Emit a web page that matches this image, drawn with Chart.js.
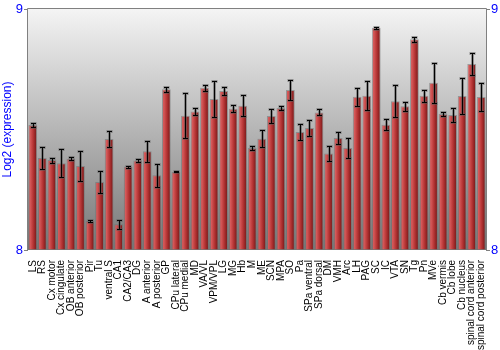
<!DOCTYPE html>
<html><head><meta charset="utf-8">
<script src="https://cdn.jsdelivr.net/npm/chart.js@4/dist/chart.umd.min.js"></script>
<style>html,body{margin:0;padding:0;background:#fff}#c{display:block}</style>
</head><body>
<canvas id="c" width="500" height="350"></canvas>
<script>
const categories = ["LS","RS","Cx motor","Cx cingulate","OB anterior","OB posterior","Pir","Tu","ventral S","CA1","CA2/CA3","DG","A anterior","A posterior","GP","CPu lateral","CPu medial","MD","VA/VL","VPM/VPL","LG","MG","Hb","M","ME","SCN","MPA","SO","Pa","SPa ventral","SPa dorsal","DM","VMH","Arc","LH","PAG","SC","IC","VTA","SN","Tg","Pn","MVe","Cb vermis","Cb lobe","Cb nucleus","spinal cord anterior","spinal cord posterior"];
const values = [8.519,8.382,8.373,8.360,8.379,8.349,8.120,8.282,8.461,8.107,8.346,8.371,8.410,8.310,8.667,8.324,8.557,8.575,8.673,8.627,8.660,8.586,8.599,8.423,8.462,8.556,8.589,8.664,8.490,8.506,8.571,8.400,8.465,8.423,8.636,8.640,8.922,8.520,8.617,8.596,8.874,8.640,8.694,8.564,8.560,8.639,8.772,8.635];
const errors = [0.010,0.044,0.010,0.058,0.005,0.063,0.004,0.044,0.034,0.018,0.004,0.005,0.044,0.048,0.011,0.002,0.094,0.014,0.012,0.075,0.017,0.014,0.043,0.008,0.035,0.031,0.010,0.042,0.032,0.032,0.012,0.032,0.026,0.040,0.037,0.060,0.004,0.022,0.066,0.019,0.009,0.025,0.082,0.008,0.028,0.076,0.044,0.059];
const yTicks = [8, 9];

const bgPlugin = {
  id: 'bg',
  beforeDraw(chart) {
    const {ctx, chartArea: a} = chart;
    const g = ctx.createLinearGradient(0, a.top, 0, a.bottom);
    g.addColorStop(0, '#f4f4f4');
    g.addColorStop(1, '#777777');
    ctx.save();
    ctx.fillStyle = g;
    ctx.fillRect(a.left, a.top, a.right - a.left, a.bottom - a.top);
    ctx.restore();
  },
  beforeDatasetsDraw(chart) {
    const ctx = chart.ctx;
    chart.getDatasetMeta(0).data.forEach(el => {
      const l = el.x - el.width / 2, r = el.x + el.width / 2;
      const g = ctx.createLinearGradient(l, 0, r, 0);
      g.addColorStop(0, '#c24646');
      g.addColorStop(0.2, '#d65a5a');
      g.addColorStop(0.55, '#b53434');
      g.addColorStop(1, '#6c1414');
      el.options = Object.assign({}, el.options, {backgroundColor: g});
    });
  },
  afterDatasetsDraw(chart) {
    const {ctx, chartArea: a} = chart;
    const ys = chart.scales.y;
    ctx.save();
    chart.getDatasetMeta(0).data.forEach((el, i) => {
      const x = Math.round(el.x) + 0.5;
      const t = Math.round(ys.getPixelForValue(values[i] + errors[i])) + 0.5;
      const b = Math.round(ys.getPixelForValue(values[i] - errors[i])) + 0.5;
      ctx.strokeStyle = 'rgba(90,90,90,0.55)';
      ctx.lineWidth = 3;
      ctx.beginPath();
      ctx.moveTo(x, t); ctx.lineTo(x, b);
      ctx.moveTo(x - 3, t); ctx.lineTo(x + 3, t);
      ctx.moveTo(x - 3, b); ctx.lineTo(x + 3, b);
      ctx.stroke();
      ctx.strokeStyle = '#000';
      ctx.lineWidth = 1;
      ctx.beginPath();
      ctx.moveTo(x, t); ctx.lineTo(x, b);
      ctx.moveTo(x - 2.5, t); ctx.lineTo(x + 2.5, t);
      ctx.moveTo(x - 2.5, b); ctx.lineTo(x + 2.5, b);
      ctx.stroke();
    });
    ctx.strokeStyle = '#808080';
    ctx.lineWidth = 1;
    ctx.beginPath();
    ctx.moveTo(a.left - 0.5, a.bottom);
    ctx.lineTo(a.left - 0.5, a.top - 0.5);
    ctx.lineTo(a.right + 0.5, a.top - 0.5);
    ctx.lineTo(a.right + 0.5, a.bottom);
    ctx.stroke();
    ctx.restore();
  }
};

const yTickOpts = {
  color: '#0000ff',
  font: {family: 'Liberation Sans, Arial, sans-serif', size: 13},
  padding: 1,
  autoSkip: false
};

new Chart(document.getElementById('c'), {
  type: 'bar',
  data: {
    labels: categories,
    datasets: [{
      data: values,
      backgroundColor: '#b53434',
      borderColor: 'rgba(110,110,110,0.55)',
      borderWidth: 1,
      barPercentage: 0.92,
      categoryPercentage: 1.0,
      base: 8
    }]
  },
  options: {
    responsive: false,
    animation: false,
    events: [],
    layout: {padding: {top: 9, left: 0, right: 0, bottom: 0}},
    plugins: {legend: {display: false}, tooltip: {enabled: false}},
    scales: {
      x: {
        grid: {display: false},
        border: {display: false},
        ticks: {
          color: '#000',
          font: {family: 'Liberation Sans, Arial, sans-serif', size: 10},
          maxRotation: 90, minRotation: 90,
          autoSkip: false,
          padding: 2
        },
        afterFit(s) { s.height = 100; }
      },
      y: {
        position: 'left',
        min: 8, max: 9,
        afterBuildTicks(s) { s.ticks = yTicks.map(v => ({value: v})); },
        grid: {drawOnChartArea: false, color: '#808080', tickLength: 4},
        border: {display: false},
        ticks: yTickOpts,
        title: {
          display: true,
          text: 'Log2 (expression)',
          color: '#0000ff',
          font: {family: 'Liberation Sans, Arial, sans-serif', size: 12},
          padding: {top: 0, bottom: 0}
        },
        afterFit(s) { s.width = 28; }
      },
      y2: {
        position: 'right',
        min: 8, max: 9,
        afterBuildTicks(s) { s.ticks = yTicks.map(v => ({value: v})); },
        grid: {drawOnChartArea: false, color: '#808080', tickLength: 4},
        border: {display: false},
        ticks: yTickOpts,
        afterFit(s) { s.width = 14; }
      }
    }
  },
  plugins: [bgPlugin]
});
</script>
</body></html>
